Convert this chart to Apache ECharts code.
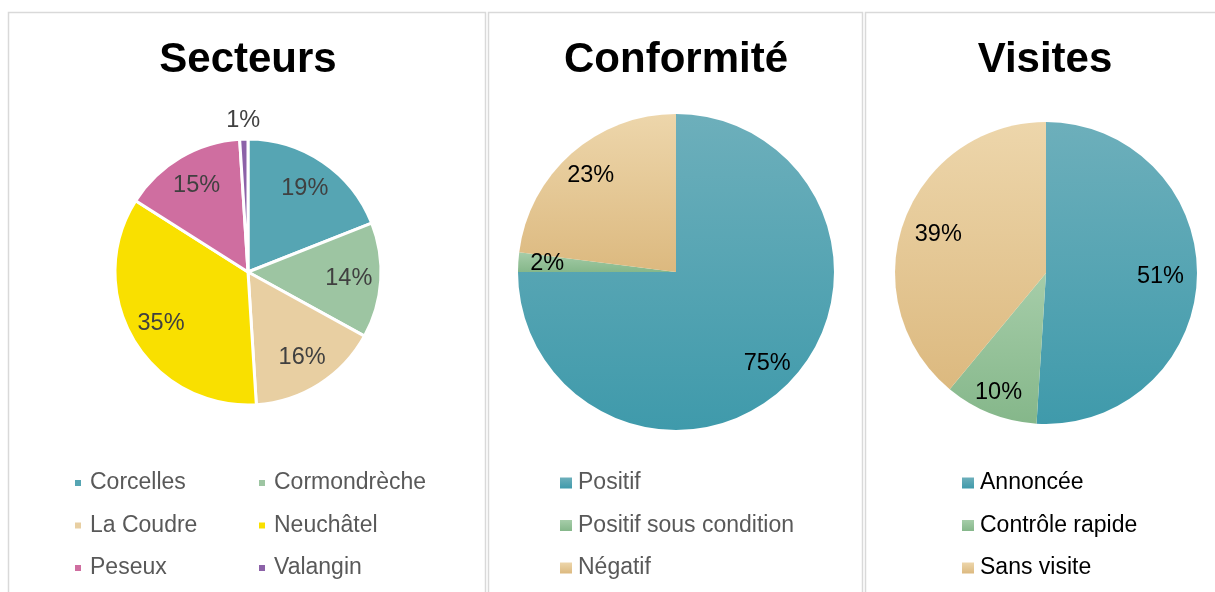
<!DOCTYPE html>
<html>
<head>
<meta charset="utf-8">
<script src="https://cdn.jsdelivr.net/npm/echarts@6/dist/echarts.min.js"></script>
<style>
  html, body { margin: 0; padding: 0; background: #fff; }
  #main { width: 1215px; height: 592px; }
</style>
</head>
<body>
<div id="main"></div>
<script>
// donnees
var sectorNames = ['Corcelles', 'Cormondrèche', 'La Coudre', 'Neuchâtel', 'Peseux', 'Valangin'];
var sectorValues = [19, 14, 16, 35, 15, 1];
var confNames = ['Positif', 'Positif sous condition', 'Négatif'];
var confValues = [75, 2, 23];
var visitNames = ['Annoncée', 'Contrôle rapide', 'Sans visite'];
var visitValues = [51, 10, 39];

var sectorColors = ['#56A5B3', '#9DC5A2', '#E8CFA2', '#F9E000', '#CF6EA0', '#8C62A8'];
function grad(top, bottom) {
    return { type: 'linear', x: 0, y: 0, x2: 0, y2: 1,
        colorStops: [{ offset: 0, color: top }, { offset: 1, color: bottom }] };
}
var gradColors = [grad('#6DAFBB', '#3F9AAB'), grad('#A6CDA9', '#85B78A'), grad('#EDD6AB', '#DCB97F')];

function mkData(names, values, colors) {
    var out = [];
    for (var i = 0; i < names.length; i++) {
        out.push({ name: names[i], value: values[i], itemStyle: { color: colors[i] } });
    }
    return out;
}
function pctFmt(p) { return p.value + '%'; }

var font = 'Arial, "Liberation Sans", sans-serif';

// anneau transparent qui porte les etiquettes ; showIdx = indices a etiqueter
function labelRing(cx, cy, r0, r1, names, values, color, showIdx) {
    var d = [];
    for (var i = 0; i < names.length; i++) {
        var item = { name: names[i], value: values[i] };
        if (showIdx.indexOf(i) < 0) item.label = { show: false };
        d.push(item);
    }
    return {
        type: 'pie', center: [cx, cy], radius: [r0, r1], silent: true,
        legendHoverLink: false, animation: false,
        itemStyle: { color: 'rgba(0,0,0,0)', borderWidth: 0 },
        label: { show: true, position: 'inside', formatter: pctFmt,
            fontFamily: font, fontSize: 23.5, color: color },
        labelLine: { show: false },
        emphasis: { disabled: true },
        data: d
    };
}

var chart = echarts.init(document.getElementById('main'));
var legendBase = {
    orient: 'vertical', icon: 'rect', itemGap: 18.5, selectedMode: false,
    textStyle: { fontFamily: font, fontSize: 23, lineHeight: 24, color: '#595959' }
};
var titleStyle = { fontFamily: font, fontSize: 42, fontWeight: 'bold', color: '#000' };
var option = {
    animation: false,
    graphic: [
        { type: 'rect', shape: { x: 8.5, y: 12.5, width: 477, height: 600 }, style: { fill: 'none', stroke: '#D9D9D9', lineWidth: 1.5 } },
        { type: 'rect', shape: { x: 488.5, y: 12.5, width: 374, height: 600 }, style: { fill: 'none', stroke: '#D9D9D9', lineWidth: 1.5 } },
        { type: 'rect', shape: { x: 865.5, y: 12.5, width: 400, height: 600 }, style: { fill: 'none', stroke: '#D9D9D9', lineWidth: 1.5 } }
    ],
    title: [
        { text: 'Secteurs', left: 243, top: 34, textAlign: 'center', textStyle: titleStyle },
        { text: 'Conformité', left: 671, top: 34, textAlign: 'center', textStyle: titleStyle },
        { text: 'Visites', left: 1040, top: 34, textAlign: 'center', textStyle: titleStyle }
    ],
    legend: [
        echarts.util.merge({ left: 68, top: 466, itemWidth: 8, itemHeight: 8,
            data: ['Corcelles', 'La Coudre', 'Peseux'], textStyle: { padding: [0, 0, 0, 3] } }, legendBase),
        echarts.util.merge({ left: 252, top: 466, itemWidth: 8, itemHeight: 8,
            data: ['Cormondrèche', 'Neuchâtel', 'Valangin'], textStyle: { padding: [0, 0, 0, 3] } }, legendBase),
        echarts.util.merge({ left: 555, top: 466, itemWidth: 12, itemHeight: 11,
            data: confNames, textStyle: { padding: [0, 0, 0, 1] } }, legendBase),
        echarts.util.merge({ left: 957, top: 466, itemWidth: 12, itemHeight: 11,
            data: visitNames, textStyle: { color: '#000', padding: [0, 0, 0, 1] } }, legendBase)
    ],
    series: [
        { type: 'pie', center: [248, 272], radius: [0, 133],
          itemStyle: { borderColor: '#fff', borderWidth: 3 },
          label: { show: false }, labelLine: { show: false },
          data: mkData(sectorNames, sectorValues, sectorColors) },
        { type: 'pie', center: [676, 272], radius: [0, 158],
          label: { show: false }, labelLine: { show: false },
          data: mkData(confNames, confValues, gradColors) },
        { type: 'pie', center: [1046, 273], radius: [0, 151],
          label: { show: false }, labelLine: { show: false },
          data: mkData(visitNames, visitValues, gradColors) },
        labelRing(248, 272, 63, 133, sectorNames, sectorValues, '#404040', [0, 1, 2, 3, 4]),
        labelRing(248, 272, 136, 162, sectorNames, sectorValues, '#404040', [5]),
        labelRing(676, 272, 94, 158, confNames, confValues, '#000', [0, 1, 2]),
        labelRing(1046, 273, 72, 151, visitNames, visitValues, '#000', [0, 2]),
        labelRing(1046, 273, 101, 151, visitNames, visitValues, '#000', [1])
    ]
};
chart.setOption(option);
</script>
</body>
</html>
